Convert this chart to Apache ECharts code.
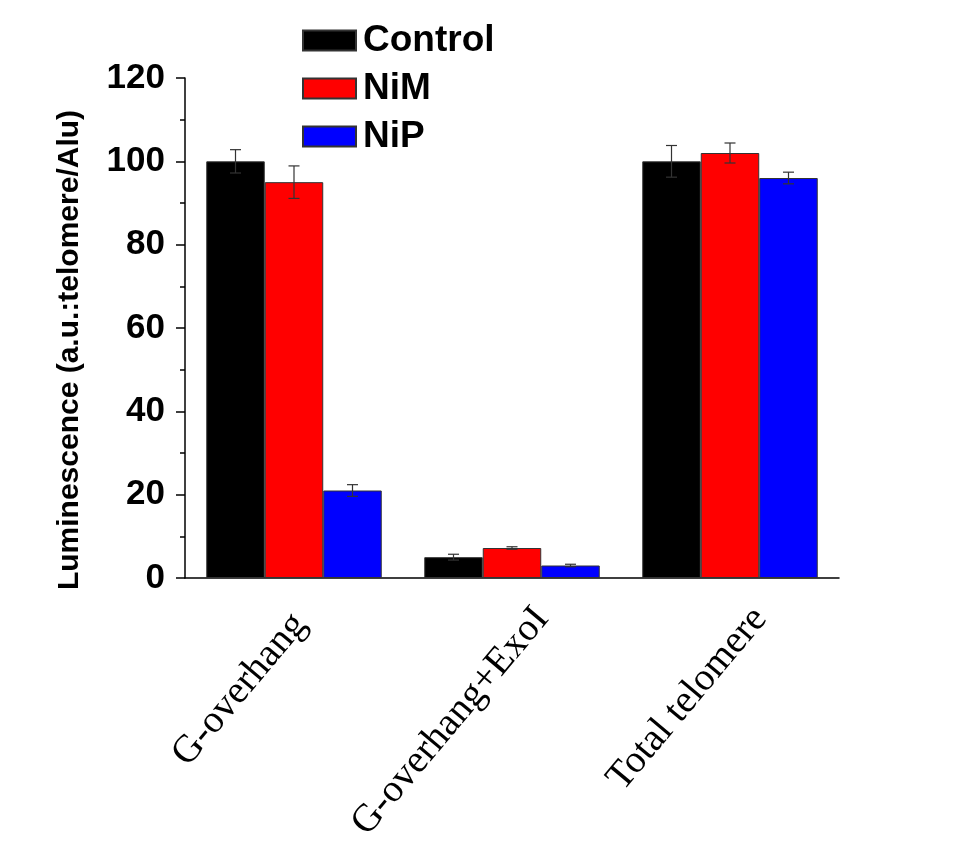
<!DOCTYPE html>
<html>
<head>
<meta charset="utf-8">
<script src="https://cdn.jsdelivr.net/npm/echarts@6/dist/echarts.min.js"></script>
<style>
  html, body { margin: 0; padding: 0; background: #ffffff; }
  #chart { width: 964px; height: 845px; }
</style>
</head>
<body>
<div id="chart"></div>
<script>
var categories = ["G-overhang", "G-overhang+ExoI", "Total telomere"];
var groupNames = ["Control", "NiM", "NiP"];
var controlValues = [100, 5, 100];
var nimValues = [95, 7.2, 102];
var nipValues = [21, 3, 96];
var controlErrors = [2.8, 0.7, 3.8];
var nimErrors = [3.9, 0.3, 2.4];
var nipErrors = [1.4, 0.3, 1.4];
var yTicks = [0, 20, 40, 60, 80, 100, 120];

var colors = ["#000000", "#ff0000", "#0000ff"];
var gapRatio = 0.195;
// the tilted category labels sit a little right of the ticks
var labelShift = 30;

chart1();

function errorSeries(idx, values, errors) {
    var data = values.map(function (v, i) {
        return [i, v, errors[i]];
    });
    return {
        type: "custom",
        xAxisIndex: 0,
        yAxisIndex: 0,
        z: 5,
        silent: true,
        renderItem: function (params, api) {
            var cat = api.value(0);
            var hi = api.coord([cat, api.value(1) + api.value(2)]);
            var lo = api.coord([cat, api.value(1) - api.value(2)]);
            var band = api.size([1, 0])[0];
            var barW = band * (1 - gapRatio) / 3;
            var x = hi[0] + (idx - 1) * barW;
            var cap = 5.5;
            var style = { stroke: "#333333", lineWidth: 1.2 };
            return {
                type: "group",
                children: [
                    { type: "line", shape: { x1: x, y1: hi[1], x2: x, y2: lo[1] }, style: style },
                    { type: "line", shape: { x1: x - cap, y1: hi[1], x2: x + cap, y2: hi[1] }, style: style },
                    { type: "line", shape: { x1: x - cap, y1: lo[1], x2: x + cap, y2: lo[1] }, style: style }
                ]
            };
        },
        encode: { x: 0, y: 1 },
        data: data
    };
}

function barSeries(idx, values) {
    return {
        name: groupNames[idx],
        type: "bar",
        xAxisIndex: 0,
        yAxisIndex: 0,
        barGap: "0%",
        barCategoryGap: (gapRatio * 100) + "%",
        itemStyle: {
            color: colors[idx],
            borderColor: "#333333",
            borderWidth: 1
        },
        data: values
    };
}

function chart1() {
    var myChart = echarts.init(document.getElementById("chart"));

    var option = {
        animation: false,
        legend: {
            orient: "vertical",
            left: 297,
            top: 17,
            itemWidth: 53,
            itemHeight: 20,
            itemGap: 11,
            icon: "rect",
            textStyle: {
                color: "#000000",
                fontFamily: "Liberation Sans",
                fontWeight: "bold",
                fontSize: 37,
                padding: [0, 0, 0, 2]
            },
            data: groupNames
        },
        grid: [
            { left: 185, right: 125, top: 78, bottom: 267 },
            { left: 185 + labelShift, right: 125 - labelShift, top: 78, bottom: 267 }
        ],
        xAxis: [
            {
                type: "category",
                gridIndex: 0,
                data: categories,
                axisLine: { lineStyle: { color: "#000000", width: 1.5 } },
                axisTick: { alignWithLabel: true, length: 10, lineStyle: { color: "#000000", width: 1.5 } },
                axisLabel: { show: false }
            },
            {
                type: "category",
                gridIndex: 0,
                data: categories,
                position: "bottom",
                axisLine: { show: false },
                axisTick: { length: 5, lineStyle: { color: "#000000", width: 1.5 } },
                axisLabel: { show: false }
            },
            {
                type: "category",
                gridIndex: 1,
                data: categories,
                position: "bottom",
                axisLine: { show: false },
                axisTick: { show: false },
                axisLabel: {
                    rotate: 50,
                    margin: 41,
                    color: "#000000",
                    fontFamily: "Liberation Serif",
                    fontSize: 39,
                    formatter: function (v, i) {
                        return i === 0 ? "{first|" + v + "}" : v;
                    },
                    rich: {
                        first: {
                            fontFamily: "Liberation Serif",
                            fontSize: 39,
                            color: "#000000",
                            padding: [0, 20, 30, 0]
                        }
                    }
                }
            }
        ],
        yAxis: [
            {
                type: "value",
                gridIndex: 0,
                min: 0,
                max: 120,
                interval: 20,
                minorTick: { show: true, splitNumber: 2, length: 5, lineStyle: { color: "#000000", width: 1.5 } },
                splitLine: { show: false },
                axisLine: { show: true, lineStyle: { color: "#000000", width: 1.5 } },
                axisTick: { show: true, length: 9, lineStyle: { color: "#000000", width: 1.5 } },
                axisLabel: {
                    margin: 20,
                    color: "#000000",
                    fontFamily: "Liberation Sans",
                    fontWeight: "bold",
                    fontSize: 35,
                    formatter: function (v) {
                        return yTicks.indexOf(v) >= 0 ? String(v) : "";
                    }
                },
                name: "Luminescence (a.u.:telomere/Alu)",
                nameLocation: "middle",
                nameGap: 100,
                nameTextStyle: {
                    color: "#000000",
                    fontFamily: "Liberation Sans",
                    fontWeight: "bold",
                    fontSize: 30,
                    padding: [0, 44, 0, 0]
                }
            },
            {
                type: "value",
                gridIndex: 1,
                min: 0,
                max: 120,
                show: false
            }
        ],
        series: [
            barSeries(0, controlValues),
            barSeries(1, nimValues),
            barSeries(2, nipValues),
            errorSeries(0, controlValues, controlErrors),
            errorSeries(1, nimValues, nimErrors),
            errorSeries(2, nipValues, nipErrors)
        ]
    };

    myChart.setOption(option);
    window.addEventListener("resize", function () {
        myChart.resize();
    });
}
</script>
</body>
</html>
